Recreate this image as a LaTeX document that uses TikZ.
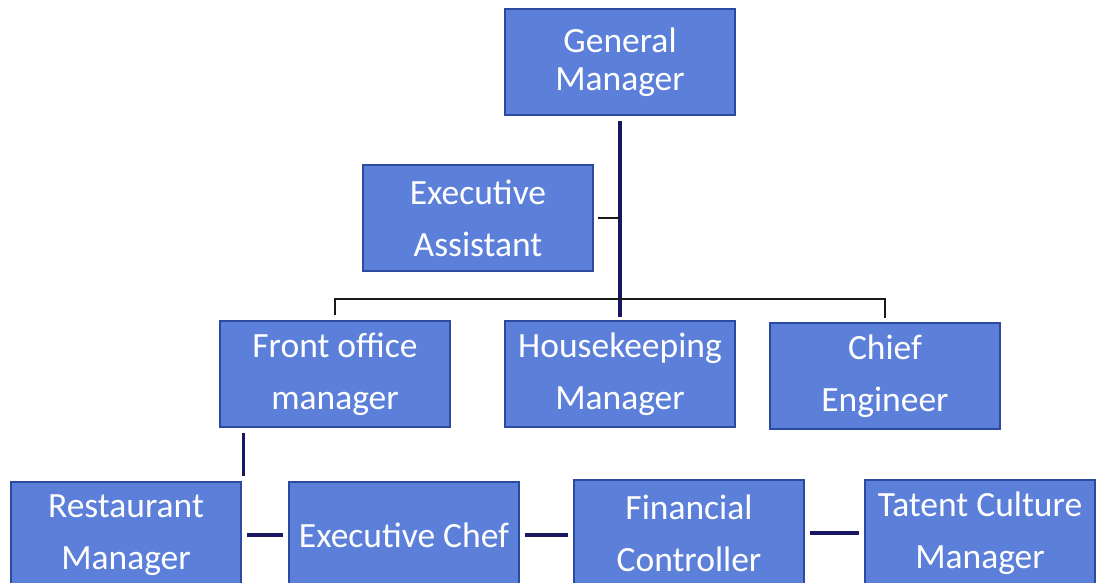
\documentclass[tikz,border=0pt]{standalone}
\usepackage{fontspec}
\newfontfamily\postfont{Carlito}
\usetikzlibrary{calc}

\definecolor{postfill}{RGB}{92,128,218}
\definecolor{postedge}{RGB}{44,74,160}
\definecolor{navyline}{RGB}{24,22,96}

\tikzset{
  post/.style={draw=postedge, line width=1.6pt, fill=postfill, text=white,
    minimum width=230pt, minimum height=106pt, inner sep=0pt, align=center,
    font=\postfont\fontsize{35.5}{52}\selectfont},
  trunk/.style={draw=navyline, line width=3.5pt},
  bus/.style={draw=black!90, line width=2.8pt},
  chain/.style={draw=navyline, line width=4pt, shorten <=5pt, shorten >=5pt}
}

\begin{document}
\begin{tikzpicture}[x=1pt,y=-1pt]
\useasboundingbox (0,0) rectangle (1099,582);
\clip (0,0) rectangle (1099,582);
% top
\node[post] (gm) at (620,62) {General\\[-14pt]Manager};
\node[post] (ea) at (478,218) {Executive\\Assistant};
% middle row
\node[post] (fom) at (335,374) {Front office\\manager};
\node[post] (hk) at (620,374) {Housekeeping\\Manager};
\node[post] (ce) at (885,376) {Chief\\Engineer};
% bottom row
\node[post] (rm) at (126,535) {Restaurant\\Manager};
\node[post] (ec) at (404,535) {Executive Chef};
\node[post] (fc) at (689,533) {Financial\\Controller};
\node[post] (tcm) at (980,533) {Tatent Culture\\Manager};
\coordinate (bus) at (620,299);
\draw[trunk, shorten <=5pt, shorten >=3pt] (gm) -- (hk);
\draw[bus, line width=1.8pt, shorten <=4pt] (ea.east) -- (ea.east -| gm.south);
\draw[bus, shorten <=5pt, shorten >=4pt] (fom.north) |- (bus) -| (ce.north);
\draw[trunk, line width=3pt, shorten <=5pt, shorten >=5pt]
  ([xshift=2pt]rm.north east) -- ([xshift=2pt]rm.north east |- fom.south);
\draw[chain] (rm.east) -- (ec.west);
\draw[chain] (ec.east) -- (ec.east -| fc.west);
\draw[chain] (fc.east) -- (tcm.west);
\end{tikzpicture}
\end{document}
